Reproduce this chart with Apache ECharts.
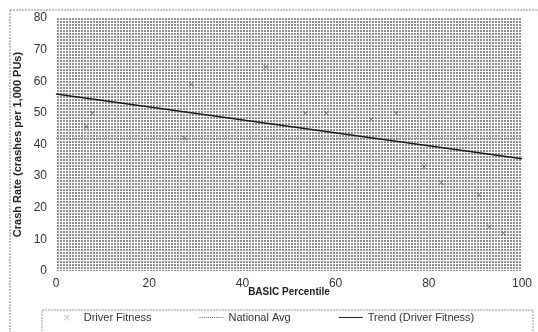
<!DOCTYPE html>
<html>
<head>
<meta charset="utf-8">
<script src="https://cdn.jsdelivr.net/npm/echarts@6/dist/echarts.min.js"></script>
<style>
  html, body { margin: 0; padding: 0; background: #fff; }
  #chart { width: 538px; height: 332px; }
</style>
</head>
<body>
<div id="chart"></div>
<script>
// values (points are faint, so these are estimates)
var fitnessPoints = [
    [6.5, 45.6], [7.8, 50], [27.6, 42], [29, 59], [45, 64.5],
    [53.5, 50], [58, 50], [67.6, 48], [73, 50], [79, 33],
    [82.7, 28], [90.7, 24], [93, 14], [96, 12]
];
var nationalAvg = [[0, 42], [100, 42]];
var trendLine = [[0, 56], [100, 35.5]];
var xTicks = [0, 20, 40, 60, 80, 100];

// dotted background of the plot area (like the Excel pattern fill)
var tile = document.createElement('canvas');
tile.width = 3;
tile.height = 3;
var tctx = tile.getContext('2d');
tctx.fillStyle = '#ffffff';
tctx.fillRect(0, 0, 3, 3);
tctx.fillStyle = '#909090';
tctx.fillRect(0, 0, 2, 2);

// legend / marker shapes
var crossSymbol = 'path://M0,1L1,0L5,4L9,0L10,1L6,5L10,9L9,10L5,6L1,10L0,9L4,5Z';
var solidIcon = 'path://M0,0H30V1.4H0Z';
var dotIcon = 'path://';
for (var i = 0; i < 30; i += 2.5) {
    dotIcon += 'M' + i + ',0H' + (i + 1.2) + 'V1.2H' + i + 'Z';
}

var myChart = echarts.init(document.getElementById('chart'));

var option = {
    animation: false,
    textStyle: { fontFamily: 'Liberation Sans, Arial, sans-serif' },
    graphic: [
        {
            type: 'rect', silent: true,
            shape: { x: 10, y: 10, width: 540, height: 340 },
            style: { fill: 'none', stroke: '#888', lineWidth: 1, lineDash: [2, 1] }
        },
        {
            type: 'rect', silent: true,
            shape: { x: 42, y: 310, width: 491, height: 40 },
            style: { fill: 'none', stroke: '#999', lineWidth: 1, lineDash: [2, 1] }
        }
    ],
    grid: {
        left: 56, right: 16, top: 18, bottom: 61,
        show: true,
        backgroundColor: { image: tile, repeat: 'repeat' },
        borderWidth: 0
    },
    legend: {
        bottom: 4,
        left: 'center',
        itemGap: 48,
        itemWidth: 24,
        itemHeight: 6,
        symbolKeepAspect: true,
        textStyle: { fontSize: 11, color: '#333' },
        data: [
            { name: 'Driver Fitness', icon: crossSymbol, itemStyle: { color: '#aaa' } },
            { name: 'National Avg', icon: dotIcon, itemStyle: { color: '#666' } },
            { name: 'Trend (Driver Fitness)', icon: solidIcon, itemStyle: { color: '#333' } }
        ]
    },
    xAxis: {
        type: 'value',
        min: 0, max: 100, interval: 20,
        name: 'BASIC Percentile',
        nameLocation: 'middle',
        nameGap: 16,
        nameMoveOverlap: false,
        nameTextStyle: { fontSize: 10, fontWeight: 'bold', color: '#222' },
        axisLine: { show: false },
        axisTick: { show: false },
        splitLine: { show: false },
        axisLabel: {
            fontSize: 12, color: '#333', margin: 7,
            customValues: xTicks
        }
    },
    yAxis: {
        type: 'value',
        min: 0, max: 80, interval: 10,
        name: 'Crash Rate (crashes per 1,000 PUs)',
        nameLocation: 'middle',
        nameGap: 33,
        nameMoveOverlap: false,
        nameTextStyle: { fontSize: 11, fontWeight: 'bold', color: '#222' },
        axisLine: { show: false },
        axisTick: { show: false },
        splitLine: { show: false },
        axisLabel: { fontSize: 12, color: '#333', margin: 9 }
    },
    series: [
        {
            name: 'Driver Fitness',
            type: 'scatter',
            symbol: crossSymbol,
            symbolSize: 5,
            itemStyle: { color: '#555' },
            data: fitnessPoints
        },
        {
            name: 'National Avg',
            type: 'line',
            symbol: 'none',
            lineStyle: { color: '#777', width: 1, type: [1, 1] },
            itemStyle: { color: '#777' },
            data: nationalAvg
        },
        {
            name: 'Trend (Driver Fitness)',
            type: 'line',
            symbol: 'none',
            lineStyle: { color: '#1a1a1a', width: 1.5 },
            itemStyle: { color: '#1a1a1a' },
            data: trendLine
        }
    ]
};

myChart.setOption(option);
</script>
</body>
</html>
